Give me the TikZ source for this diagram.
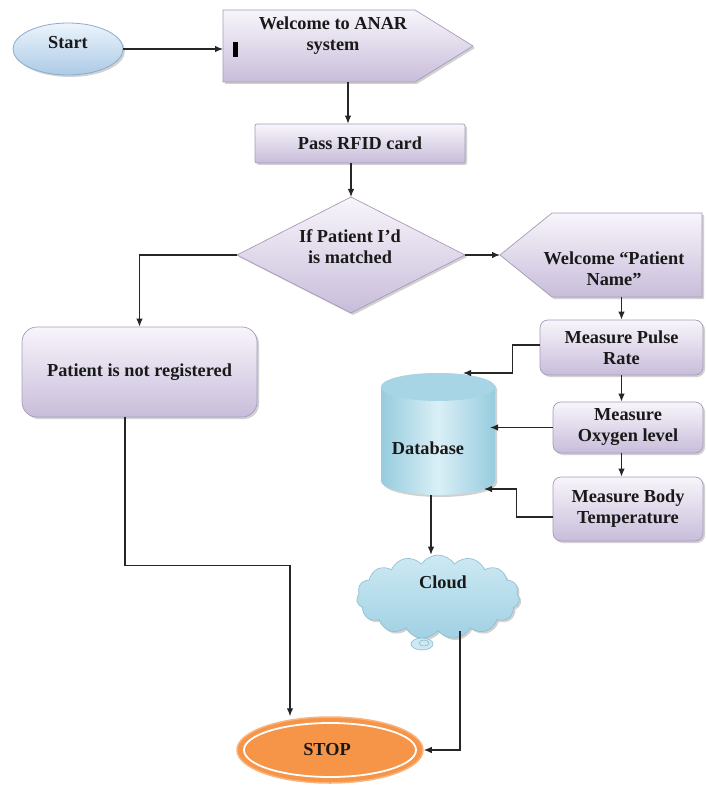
\documentclass[tikz,border=0pt]{standalone}
\usepackage{fontspec}
\setmainfont{Liberation Serif}
\usetikzlibrary{shapes.geometric,shapes.symbols,shadows,arrows.meta,calc}
\definecolor{lavT}{RGB}{248,245,251}
\definecolor{lavB}{RGB}{200,189,218}
\definecolor{lavD}{RGB}{165,155,185}
\definecolor{dbE}{RGB}{150,204,222}
\definecolor{dbM}{RGB}{218,239,246}
\definecolor{dbTop}{RGB}{168,213,229}
\definecolor{clT}{RGB}{205,233,243}
\definecolor{clB}{RGB}{160,209,227}
\definecolor{clD}{RGB}{140,188,210}
\definecolor{stT}{RGB}{236,244,251}
\definecolor{stB}{RGB}{172,202,230}
\definecolor{stD}{RGB}{140,172,205}
\definecolor{orF}{RGB}{246,148,72}
\definecolor{orD}{RGB}{249,180,125}
\begin{document}
\begin{tikzpicture}[x=1pt,y=-1pt,
  txt/.style={font=\bfseries\fontsize{18.3}{21}\selectfont, align=center, inner sep=0pt, text=black!90},
  shad/.style={drop shadow={shadow xshift=2pt, shadow yshift=-2pt, opacity=0.3, fill=black!60}},
  lav/.style={top color=lavT, bottom color=lavB, draw=lavD, line width=0.7pt, shad},
  frame/.style={inner sep=0pt, outer sep=0pt, draw=none, rectangle},
  arr/.style={-{Latex[length=8pt,width=6.5pt]}, line width=1.2pt, draw=black!85},
]
\useasboundingbox (0,0) rectangle (705,799);

% Start
\node[ellipse, top color=stT, bottom color=stB, draw=stD, line width=0.8pt, shad,
      minimum width=110pt, minimum height=52pt, inner sep=0pt] (start) at (68,49) {};
\node[txt] (starttxt) at (68,43) {Start};

% Welcome to ANAR system (pentagon pointing right)
\node[frame, minimum width=250pt, minimum height=72pt] (wel) at (348,46) {};
\path[lav] (wel.north west) -- ([xshift=-58pt]wel.north east) -- (wel.east)
   -- ([xshift=-58pt]wel.south east) -- (wel.south west) -- cycle;
\node[txt] (weltxt) at (333,36) {Welcome to ANAR\\system};
\fill[black] (233,42) rectangle (238,57);

% Pass RFID card
\node[txt, lav, rounded corners=2pt, minimum width=210pt, minimum height=39pt] (pass) at (360,143.5) {Pass RFID card};

% Diamond
\node[frame, minimum width=228pt, minimum height=116pt] (dia) at (351,255) {};
\path[lav] (dia.west) -- (dia.north) -- (dia.east) -- (dia.south) -- cycle;
\node[txt] (diatxt) at (350,247) {If Patient I’d\\is matched};

% Welcome "Patient Name" (pentagon pointing left)
\node[frame, minimum width=202pt, minimum height=84pt] (wp) at (601,255) {};
\path[lav] (wp.west) -- ([xshift=52pt]wp.north west) -- (wp.north east)
   -- (wp.south east) -- ([xshift=52pt]wp.south west) -- cycle;
\node[txt] (wptxt) at (614,269) {Welcome “Patient\\Name”};

% Measure boxes
\node[txt, lav, rounded corners=8pt, minimum width=163pt, minimum height=55pt] (pulse) at (621.5,347.5) {Measure Pulse\\Rate};
\node[txt, lav, rounded corners=8pt, minimum width=150pt, minimum height=51pt] (ox) at (628,427.5) {Measure\\Oxygen level};
\node[txt, lav, rounded corners=8pt, minimum width=150pt, minimum height=64pt] (bt) at (628,509) {Measure Body\\Temperature};

% Patient is not registered
\node[txt, lav, rounded corners=15pt, minimum width=235pt, minimum height=90pt] (pat) at (139.5,372) {Patient is not registered};

% Database cylinder
\node[frame, minimum width=114pt, minimum height=122pt] (db) at (438,434) {};
\path[left color=dbE, right color=dbE, middle color=dbM, shad]
   ([yshift=-14pt]db.north west) -- ([yshift=14pt]db.south west)
   arc[start angle=180, end angle=360, x radius=57pt, y radius=14pt]
   -- ([yshift=-14pt]db.north east)
   arc[start angle=0, end angle=180, x radius=57pt, y radius=14pt] -- cycle;
\path[fill=dbTop] ([yshift=-14pt]db.north) ellipse[x radius=57pt, y radius=14pt];
\node[txt] (dbtxt) at (428,448) {Database};

% Cloud
\node[cloud, cloud puffs=15, cloud puff arc=115, aspect=2, top color=clT, bottom color=clB,
      draw=clD, line width=0.6pt, shad, minimum width=163pt, minimum height=84pt, inner sep=0pt] (cloud) at (438,597) {};
\path[fill=clT, draw=clD, line width=0.6pt] (422,644) ellipse[x radius=11pt, y radius=6pt];
\draw[clD, line width=0.6pt] (424,643) ellipse[x radius=5pt, y radius=3pt];
\node[txt] (cloudtxt) at (443,582) {Cloud};

% STOP
\node[ellipse, fill=orF, draw=orD, line width=1.5pt, minimum width=186pt, minimum height=66pt, inner sep=0pt] (stop) at (330,750) {};
\draw[white, line width=1.8pt] (stop.center) ellipse[x radius=86pt, y radius=27pt];
\node[txt] (stoptxt) at (327,750) {STOP};

% Connectors
\draw[arr] (start.east) -- (start.east -| wel.west);
\draw[arr] (wel.south) -- (wel.south |- pass.north);
\draw[arr] (pass.south -| dia.north) -- (dia.north);
\draw[arr] (dia.east) -- (wp.west);
\draw[arr] (dia.west) -| (pat.north);
\draw[arr] (pulse.north |- wp.south) -- (pulse.north);
\draw[arr] (pulse.south) -- (pulse.south |- ox.north);
\draw[arr] (pulse.south |- ox.south) -- (pulse.south |- bt.north);
\draw[arr] ([yshift=2.5pt]pulse.west) -- ++(-27,0) |- ([xshift=25pt]db.north);
\draw[arr] (ox.west) -- ([xshift=-5pt]ox.west -| db.east);
\draw[arr] ([yshift=-8pt]bt.west) -- ++(-36,0) |- ([shift={(-11pt,6pt)}]db.south east);
\draw[arr] ([xshift=-7pt]db.south) -- ([xshift=-7pt]db.south |- cloud.north);
\draw[arr] ([xshift=22pt]cloud.south) |- (stop.east);
\draw[arr] ([xshift=-14.5pt]pat.south) -- ++(0,148) -| ([xshift=-40pt]stop.north);
\end{tikzpicture}
\end{document}
